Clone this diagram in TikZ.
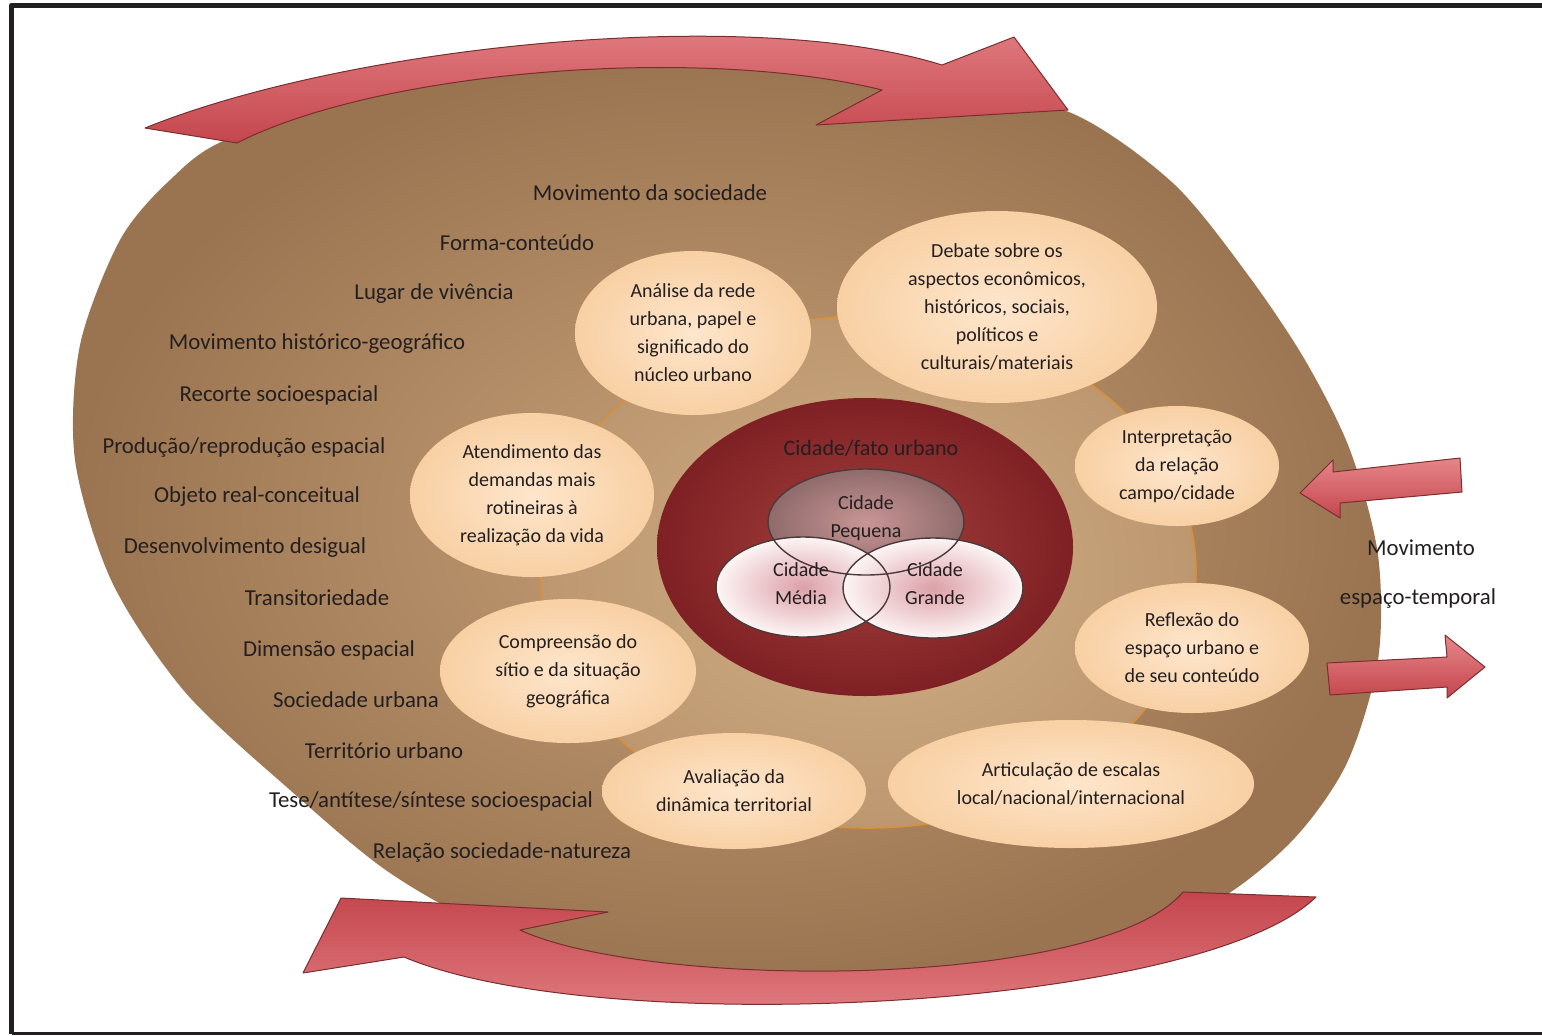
\documentclass[tikz,border=0pt]{standalone}
\usepackage{fontspec}
\setmainfont{Carlito}
\usetikzlibrary{shapes.geometric}
\definecolor{framecol}{HTML}{231F20}
\definecolor{brownin}{HTML}{C6A078}
\definecolor{brownout}{HTML}{9A7450}
\definecolor{ringin}{HTML}{D2AF89}
\definecolor{ringout}{HTML}{BC976F}
\definecolor{ringline}{HTML}{D8903C}
\definecolor{peachin}{HTML}{FEE6CC}
\definecolor{peachout}{HTML}{F8D0A4}
\definecolor{redin}{HTML}{A8423E}
\definecolor{redout}{HTML}{7E2024}
\definecolor{smallin}{HTML}{C99595}
\definecolor{smallout}{HTML}{8F6B6B}
\definecolor{midin}{HTML}{DCA0A8}
\definecolor{midout}{HTML}{FDF5F5}
\definecolor{vennline}{HTML}{4A3A3A}
\definecolor{arrowlight}{HTML}{E6868A}
\definecolor{arrowdark}{HTML}{C4464D}
\definecolor{arrowline}{HTML}{7A2E30}
\definecolor{inktext}{HTML}{231F20}

\begin{document}
\begin{tikzpicture}[x=0.5pt,y=-0.5pt,line cap=round,line join=round,
  bubble/.style={ellipse,inner sep=0pt,shade,inner color=peachin,outer color=peachout,
    align=center,font=\fontsize{10}{14}\selectfont,text=inktext},
  lab/.style={font=\fontsize{11.4}{14}\selectfont,text=inktext,inner sep=0pt},
  citytext/.style={font=\fontsize{10}{14}\selectfont,text=inktext,align=center,inner sep=0pt},
  bigarrow/.style={draw=arrowline,line width=0.5pt}]
  \useasboundingbox (0,0) rectangle (1542,1035);

  % frame
  \draw[line width=2.6pt,framecol,line cap=butt] (1542,5.5) -- (11.5,5.5) -- (11.5,1033.5);
  \draw[line width=1.2pt,framecol,line cap=butt] (11.5,1033.5) -- (1542,1033.5);

  % layers
  \shade[inner color=brownin,outer color=brownout] plot[smooth cycle] coordinates {
    (230,138) (400,86) (600,55) (800,58) (960,80) (1080,117) (1175,185) (1248,275)
    (1305,360) (1350,450) (1378,555) (1378,660) (1346,765) (1288,845) (1200,910)
    (1050,960) (850,985) (650,972) (500,932) (390,873) (290,790) (185,692)
    (112,582) (75,460) (80,345) (120,240) (170,180)};
  \shade[inner color=ringin,outer color=ringout] (868,572) ellipse [x radius=328,y radius=256];
  \draw[ringline,line width=0.8pt] (868,572) ellipse [x radius=328,y radius=256];
  \shade[inner color=redin,outer color=redout] (865,547) ellipse [x radius=208,y radius=149];

  \shade[inner color=smallin,outer color=smallout] (866,522) ellipse [x radius=98,y radius=53];
  \shade[inner color=midin,outer color=midout] (803,587) ellipse [x radius=87,y radius=50];
  \shade[inner color=midin,outer color=midout] (933,588) ellipse [x radius=90,y radius=50];
  \draw[vennline,line width=0.7pt] (866,522) ellipse [x radius=98,y radius=53]
    (803,587) ellipse [x radius=87,y radius=50] (933,588) ellipse [x radius=90,y radius=50];

  \node[citytext,font=\fontsize{11}{14}\selectfont] (fato) at (871,448) {Cidade/fato urbano};
  \node[citytext] (pequena) at (866,518) {Cidade\\Pequena};
  \node[citytext] (media) at (801,584) {Cidade\\Média};
  \node[citytext] (grande) at (935,584) {Cidade\\Grande};

  % bubbles
  \node[bubble,minimum width=118pt,minimum height=82pt] (analise) at (693,333)
    {Análise da rede\\urbana, papel e\\significado do\\núcleo urbano};
  \node[bubble,minimum width=160pt,minimum height=96pt] (debate) at (997,307)
    {Debate sobre os\\aspectos econômicos,\\históricos, sociais,\\políticos e\\culturais/materiais};
  \node[bubble,minimum width=102pt,minimum height=60pt] (interp) at (1177,466)
    {Interpretação\\da relação\\campo/cidade};
  \node[bubble,minimum width=117pt,minimum height=65pt] (reflexao) at (1192,648)
    {Reflexão do\\espaço urbano e\\de seu conteúdo};
  \node[bubble,minimum width=183pt,minimum height=64pt] (articul) at (1071,784)
    {Articulação de escalas\\local/nacional/internacional};
  \node[bubble,minimum width=132pt,minimum height=58pt] (avalia) at (734,791)
    {Avaliação da\\dinâmica territorial};
  \node[bubble,minimum width=128pt,minimum height=72pt] (compreende) at (568,671)
    {Compreensão do\\sítio e da situação\\geográfica};
  \node[bubble,minimum width=122pt,minimum height=82pt] (atende) at (532,495)
    {Atendimento das\\demandas mais\\rotineiras à\\realização da vida};

  % labels
  \node[lab] (movsoc) at (650,193) {Movimento da sociedade};
  \node[lab] (forma) at (517,243) {Forma-conteúdo};
  \node[lab] (lugar) at (434,294) {Lugar de vivência};
  \node[lab] (movhist) at (317,344) {Movimento histórico-geográfico};
  \node[lab] (recorte) at (279,395) {Recorte socioespacial};
  \node[lab] (producao) at (244,447) {Produção/reprodução espacial};
  \node[lab] (objeto) at (257,497) {Objeto real-conceitual};
  \node[lab] (desenv) at (245,548) {Desenvolvimento desigual};
  \node[lab] (transit) at (317,598) {Transitoriedade};
  \node[lab] (dimensao) at (329,650) {Dimensão espacial};
  \node[lab] (sociedade) at (356,700) {Sociedade urbana};
  \node[lab] (territorio) at (384,751) {Território urbano};
  \node[lab] (tese) at (431,801) {Tese/antítese/síntese socioespacial};
  \node[lab] (relacao) at (502,852) {Relação sociedade-natureza};
  \node[lab] (movim) at (1421,548) {Movimento};
  \node[lab] (espaco) at (1418,598) {espaço-temporal};

  % arrows
  \coordinate (T1) at (145,128);
  \coordinate (T2) at (942,65);
  \coordinate (T3) at (1014,37);
  \coordinate (T4) at (1068,110);
  \coordinate (T5) at (816,125);
  \coordinate (T6) at (882,90);
  \coordinate (T7) at (237,143);
  \shade[bigarrow,top color=arrowlight,bottom color=arrowdark]
    (T1) .. controls (350,45) and (750,5) .. (T2) -- (T3) -- (T4) -- (T5) -- (T6)
    .. controls (700,45) and (380,70) .. (T7) -- cycle;

  \coordinate (B1) at (1316,897);
  \coordinate (B2) at (404,957);
  \coordinate (B3) at (303,973);
  \coordinate (B4) at (341,898);
  \coordinate (B5) at (608,912);
  \coordinate (B6) at (520,930);
  \coordinate (B7) at (1183,892);
  \shade[bigarrow,top color=arrowdark,bottom color=arrowlight]
    (B1) .. controls (1200,1010) and (600,1040) .. (B2) -- (B3) -- (B4) -- (B5) -- (B6)
    .. controls (650,990) and (1100,990) .. (B7) -- cycle;

  \shade[bigarrow,top color=arrowlight,bottom color=arrowdark]
    (1460,458) -- (1333,472) -- (1333,460) -- (1300,493) -- (1340,518) -- (1340,503)
    -- (1462,492) -- cycle;
  \shade[bigarrow,top color=arrowlight,bottom color=arrowdark]
    (1327,663) -- (1447,657) -- (1445,635) -- (1485,667) -- (1447,698) -- (1447,687)
    -- (1330,695) -- cycle;
\end{tikzpicture}
\end{document}
